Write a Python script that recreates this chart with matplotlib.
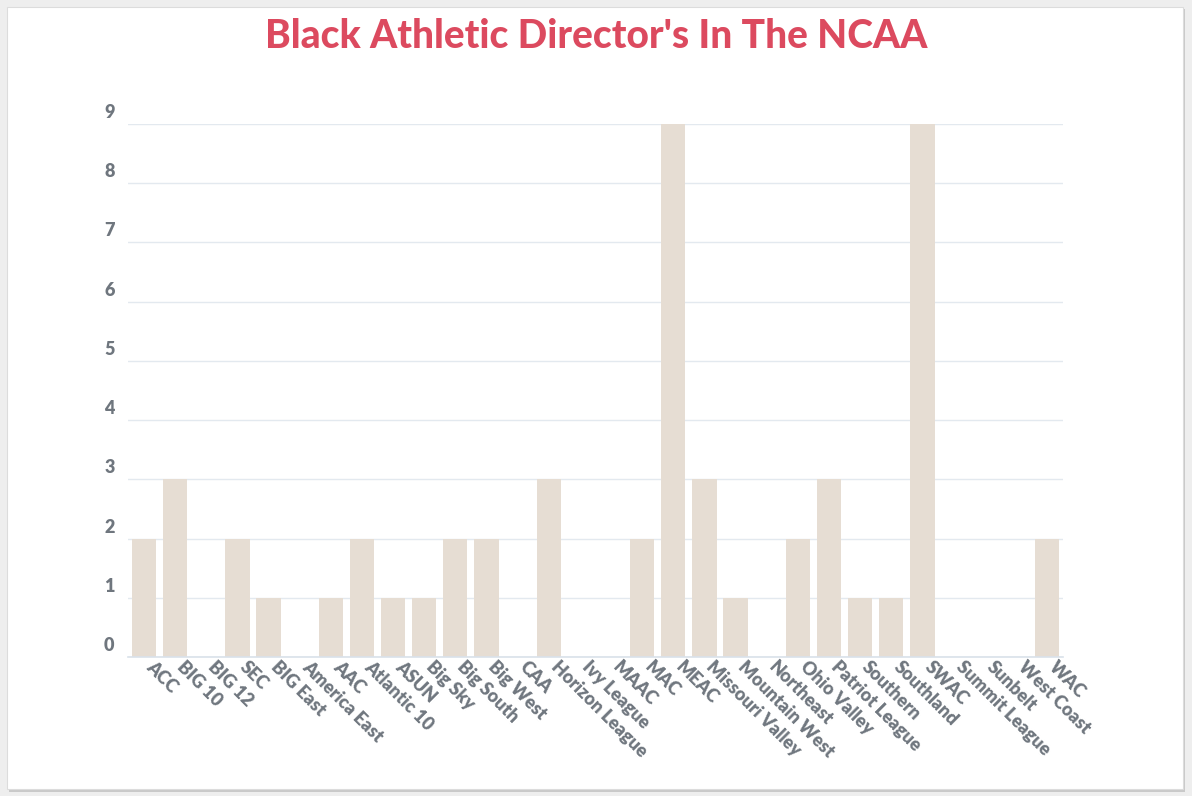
import numpy as np
import matplotlib.pyplot as plt
from matplotlib.patches import Rectangle
from matplotlib.transforms import ScaledTranslation

conferences = ['ACC', 'BIG 10', 'BIG 12', 'SEC', 'BIG East', 'America East', 'AAC',
               'Atlantic 10', 'ASUN', 'Big Sky', 'Big South', 'Big West', 'CAA',
               'Horizon League', 'Ivy League', 'MAAC', 'MAC', 'MEAC', 'Missouri Valley',
               'Mountain West', 'Northeast', 'Ohio Valley', 'Patriot League', 'Southern',
               'Southland', 'SWAC', 'Summit League', 'Sunbelt', 'West Coast', 'WAC']
directors = [2, 3, 0, 2, 1, 0, 1, 2, 1, 1, 2, 2, 0, 3, 0, 0, 2, 9, 3, 1,
             0, 2, 3, 1, 1, 9, 0, 0, 0, 2]
y_ticks = [0, 1, 2, 3, 4, 5, 6, 7, 8, 9]

plt.rcParams['font.family'] = ['Lato', 'DejaVu Sans']

fig = plt.figure(figsize=(11.92, 7.96), dpi=100, facecolor='#eeeeee')

# card with a soft shadow
fig.patches.append(Rectangle((9 / 1192, 1 - 792 / 796), 1176 / 1192, 783 / 796,
                             transform=fig.transFigure, facecolor='#c9c9c9',
                             edgecolor='none', zorder=-2))
fig.patches.append(Rectangle((7 / 1192, 1 - 789 / 796), 1176 / 1192, 782 / 796,
                             transform=fig.transFigure, facecolor='white',
                             edgecolor='#dcdcdc', linewidth=0.8, zorder=-1))

ax = fig.add_axes([0.1077, 0.1746, 0.7837, 0.6696])
ax.set_facecolor('none')

x = np.arange(len(conferences))
ax.bar(x, directors, width=0.78, color='#e6ddd3', zorder=2)

ax.set_xlim(-0.5, len(conferences) - 0.5)
ax.set_ylim(0, 9)
ax.set_yticks(y_ticks)
ax.grid(axis='y', color='#e3e9ef', linewidth=1, zorder=0)
ax.axhline(0, color='#d9e1ea', linewidth=1.2, zorder=3, clip_on=False)

for s in ax.spines.values():
    s.set_visible(False)
ax.tick_params(axis='both', length=0)
ax.tick_params(axis='y', pad=10, labelcolor='#6f767e', labelsize=13)
for lab in ax.get_yticklabels():
    lab.set_fontweight('heavy')
    lab.set_transform(lab.get_transform() + ScaledTranslation(0, 0.13, fig.dpi_scale_trans))

ax.set_xticks(x)
ax.set_xticklabels(conferences, rotation=-45, ha='left', va='top',
                   rotation_mode='anchor', fontsize=13, fontweight='heavy',
                   color='#6f767e')
for lab in ax.get_xticklabels():
    lab.set_transform(lab.get_transform() + ScaledTranslation(0.11, 0.04, fig.dpi_scale_trans))

fig.text(0.5, 1 - 36 / 796, "Black Athletic Director's In The NCAA", ha='center',
         va='center', fontsize=28, fontweight='black', color='#dc4a5f')

fig.savefig('out.png', dpi=100, facecolor=fig.get_facecolor())
